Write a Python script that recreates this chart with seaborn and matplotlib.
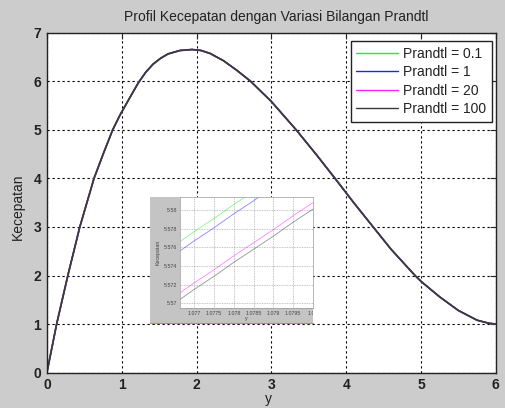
import matplotlib
matplotlib.use("Agg")
import matplotlib.pyplot as plt
from matplotlib.ticker import FormatStrFormatter
import pandas as pd
import seaborn as sns

# Series labels and line colours
prandtl_labels = ["Prandtl = 0.1", "Prandtl = 1", "Prandtl = 20", "Prandtl = 100"]
line_colors = ["#22ee22", "#2222ff", "#ff22ff", "#3a3a3a"]

# Velocity profile over the full domain (curves coincide at this scale)
y_pos = [0.0, 0.13, 0.28, 0.44, 0.63, 0.76, 0.88, 0.98, 1.077, 1.22, 1.32,
         1.42, 1.52, 1.62, 1.78, 1.94, 2.06, 2.18, 2.36, 2.54, 2.72, 3.0,
         3.33, 3.6, 3.85, 4.1, 4.36, 4.6, 4.92, 5.0, 5.25, 5.5, 5.75, 5.9,
         6.0]
kecepatan = [0.0, 1.0, 2.0, 3.0, 4.0, 4.53, 5.0, 5.31, 5.575, 5.96, 6.18,
             6.35, 6.47, 6.56, 6.63, 6.65, 6.63, 6.57, 6.42, 6.22, 6.0, 5.58,
             5.0, 4.49, 4.0, 3.50, 3.0, 2.54, 2.0, 1.88, 1.56, 1.28, 1.08,
             1.02, 1.0]

# Close-up window around y = 1.078
inset_y = [1.0766, 1.0770, 1.0775, 1.0780, 1.0785, 1.0790, 1.0795, 1.0800]
inset_pr01 = [5.5765, 5.5777, 5.5791, 5.5806, 5.5820, 5.5835, 5.5849, 5.5864]
inset_pr1 = [5.5755, 5.5767, 5.5781, 5.5796, 5.5810, 5.5825, 5.5839, 5.5854]
inset_pr20 = [5.5710, 5.5722, 5.5736, 5.5751, 5.5765, 5.5779, 5.5794, 5.5808]
inset_pr100 = [5.5703, 5.5715, 5.5729, 5.5744, 5.5758, 5.5772, 5.5787, 5.5801]

x_ticks = [0, 1, 2, 3, 4, 5, 6]
y_ticks = [0, 1, 2, 3, 4, 5, 6, 7]
inset_x_ticks = [1.077, 1.0775, 1.078, 1.0785, 1.079, 1.0795, 1.08]
inset_y_ticks = [5.57, 5.572, 5.574, 5.576, 5.578, 5.58]

sns.set_style("white")
plt.rcParams["font.family"] = ["Liberation Sans", "DejaVu Sans"]

main_df = pd.DataFrame({
    "y": y_pos * 4,
    "Kecepatan": kecepatan * 4,
    "Prandtl": [lab for lab in prandtl_labels for _ in y_pos],
})
inset_df = pd.DataFrame({
    "y": inset_y * 4,
    "Kecepatan": inset_pr01 + inset_pr1 + inset_pr20 + inset_pr100,
    "Prandtl": [lab for lab in prandtl_labels for _ in inset_y],
})
palette = dict(zip(prandtl_labels, line_colors))

W, H = 505, 408
fig = plt.figure(figsize=(W / 100, H / 100), dpi=100, facecolor="#cccccc")

# ---- main axes ----
left, right, top, bottom = 46.9, 495.8, 32.5, 372.7
ax = fig.add_axes([left / W, 1 - bottom / H, (right - left) / W, (bottom - top) / H])
ax.set_facecolor("white")
sns.lineplot(data=main_df, x="y", y="Kecepatan", hue="Prandtl",
             hue_order=prandtl_labels, palette=palette, estimator=None,
             sort=False, linewidth=1.0, legend=False, ax=ax)
main_lines = ax.get_lines()[:4]
main_lines[-1].set_linewidth(1.3)
ax.set_xlim(0, 6)
ax.set_ylim(0, 7)
ax.set_xticks(x_ticks)
ax.set_yticks(y_ticks)
ax.grid(True, color="black", linestyle=(0, (2, 2.5)), linewidth=0.8)
ax.tick_params(direction="in", top=True, right=True, length=4, width=0.8,
               labelsize=10, labelcolor="#222222", pad=4)
for lab in ax.get_xticklabels() + ax.get_yticklabels():
    lab.set_fontweight("bold")
for s in ax.spines.values():
    s.set_color("#222222")
    s.set_linewidth(1.0)
ax.set_xlabel("y", fontsize=10, color="#222222")
ax.set_ylabel("Kecepatan", fontsize=10, color="#222222")
ax.xaxis.set_label_coords((268 - left) / (right - left), -0.058)
ax.yaxis.set_label_coords((25 - left) / (right - left), 0.487)

leg = ax.legend(main_lines, prandtl_labels, loc="upper right",
                bbox_to_anchor=((492 - left) / (right - left), (bottom - 41) / (bottom - top)),
                borderaxespad=0, fontsize=10, frameon=True, fancybox=False,
                framealpha=1, edgecolor="#222222", handlelength=3.0,
                handletextpad=0.4, labelspacing=0.33, borderpad=0.4)
leg.get_frame().set_linewidth(1.0)
for t in leg.get_texts():
    t.set_color("#222222")
for h in leg.get_lines():
    h.set_linewidth(1.0)

fig.text(276 / W, 1 - 17 / H, "Profil Kecepatan dengan Variasi Bilangan Prandtl",
         ha="center", va="center", fontsize=10, color="#222222")

# ---- inset: grey backdrop ----
bg = fig.add_axes([150 / W, 1 - 323 / H, 163 / W, 126 / H])
bg.set_facecolor("#c4c4c4")
bg.set_xticks([])
bg.set_yticks([])
for name, s in bg.spines.items():
    s.set_visible(name == "bottom")
bg.spines["bottom"].set_color("#e07a6a")
bg.spines["bottom"].set_linewidth(0.8)

# ---- inset: zoomed axes ----
ins = fig.add_axes([180 / W, 1 - 308 / H, 133 / W, 111 / H])
ins.set_facecolor("white")
sns.lineplot(data=inset_df, x="y", y="Kecepatan", hue="Prandtl",
             hue_order=prandtl_labels, palette=palette, estimator=None,
             sort=False, linewidth=0.6, alpha=0.55, legend=False, ax=ins)
ins.set_xlim(1.07664, 1.0800)
ins.set_ylim(5.5695, 5.5814)
ins.set_xticks(inset_x_ticks)
ins.set_yticks(inset_y_ticks)
ins.yaxis.set_major_formatter(FormatStrFormatter("%g"))
ins.xaxis.set_major_formatter(FormatStrFormatter("%g"))
ins.grid(True, color="#888888", linestyle=(0, (1.5, 1.5)), linewidth=0.4)
ins.tick_params(direction="in", length=1.5, width=0.4, labelsize=3.8,
                labelcolor="#444444", pad=2)
for s in ins.spines.values():
    s.set_color("#999999")
    s.set_linewidth(0.5)
ins.set_xlabel("y", fontsize=3.8, color="#444444", labelpad=0.5)
ins.set_ylabel("Kecepatan", fontsize=3.8, color="#444444", labelpad=2)
for lab in ins.get_xticklabels():
    lab.set_clip_on(True)
    lab.set_clip_box(bg.bbox)

fig.savefig("out.png", dpi=100, facecolor=fig.get_facecolor())
